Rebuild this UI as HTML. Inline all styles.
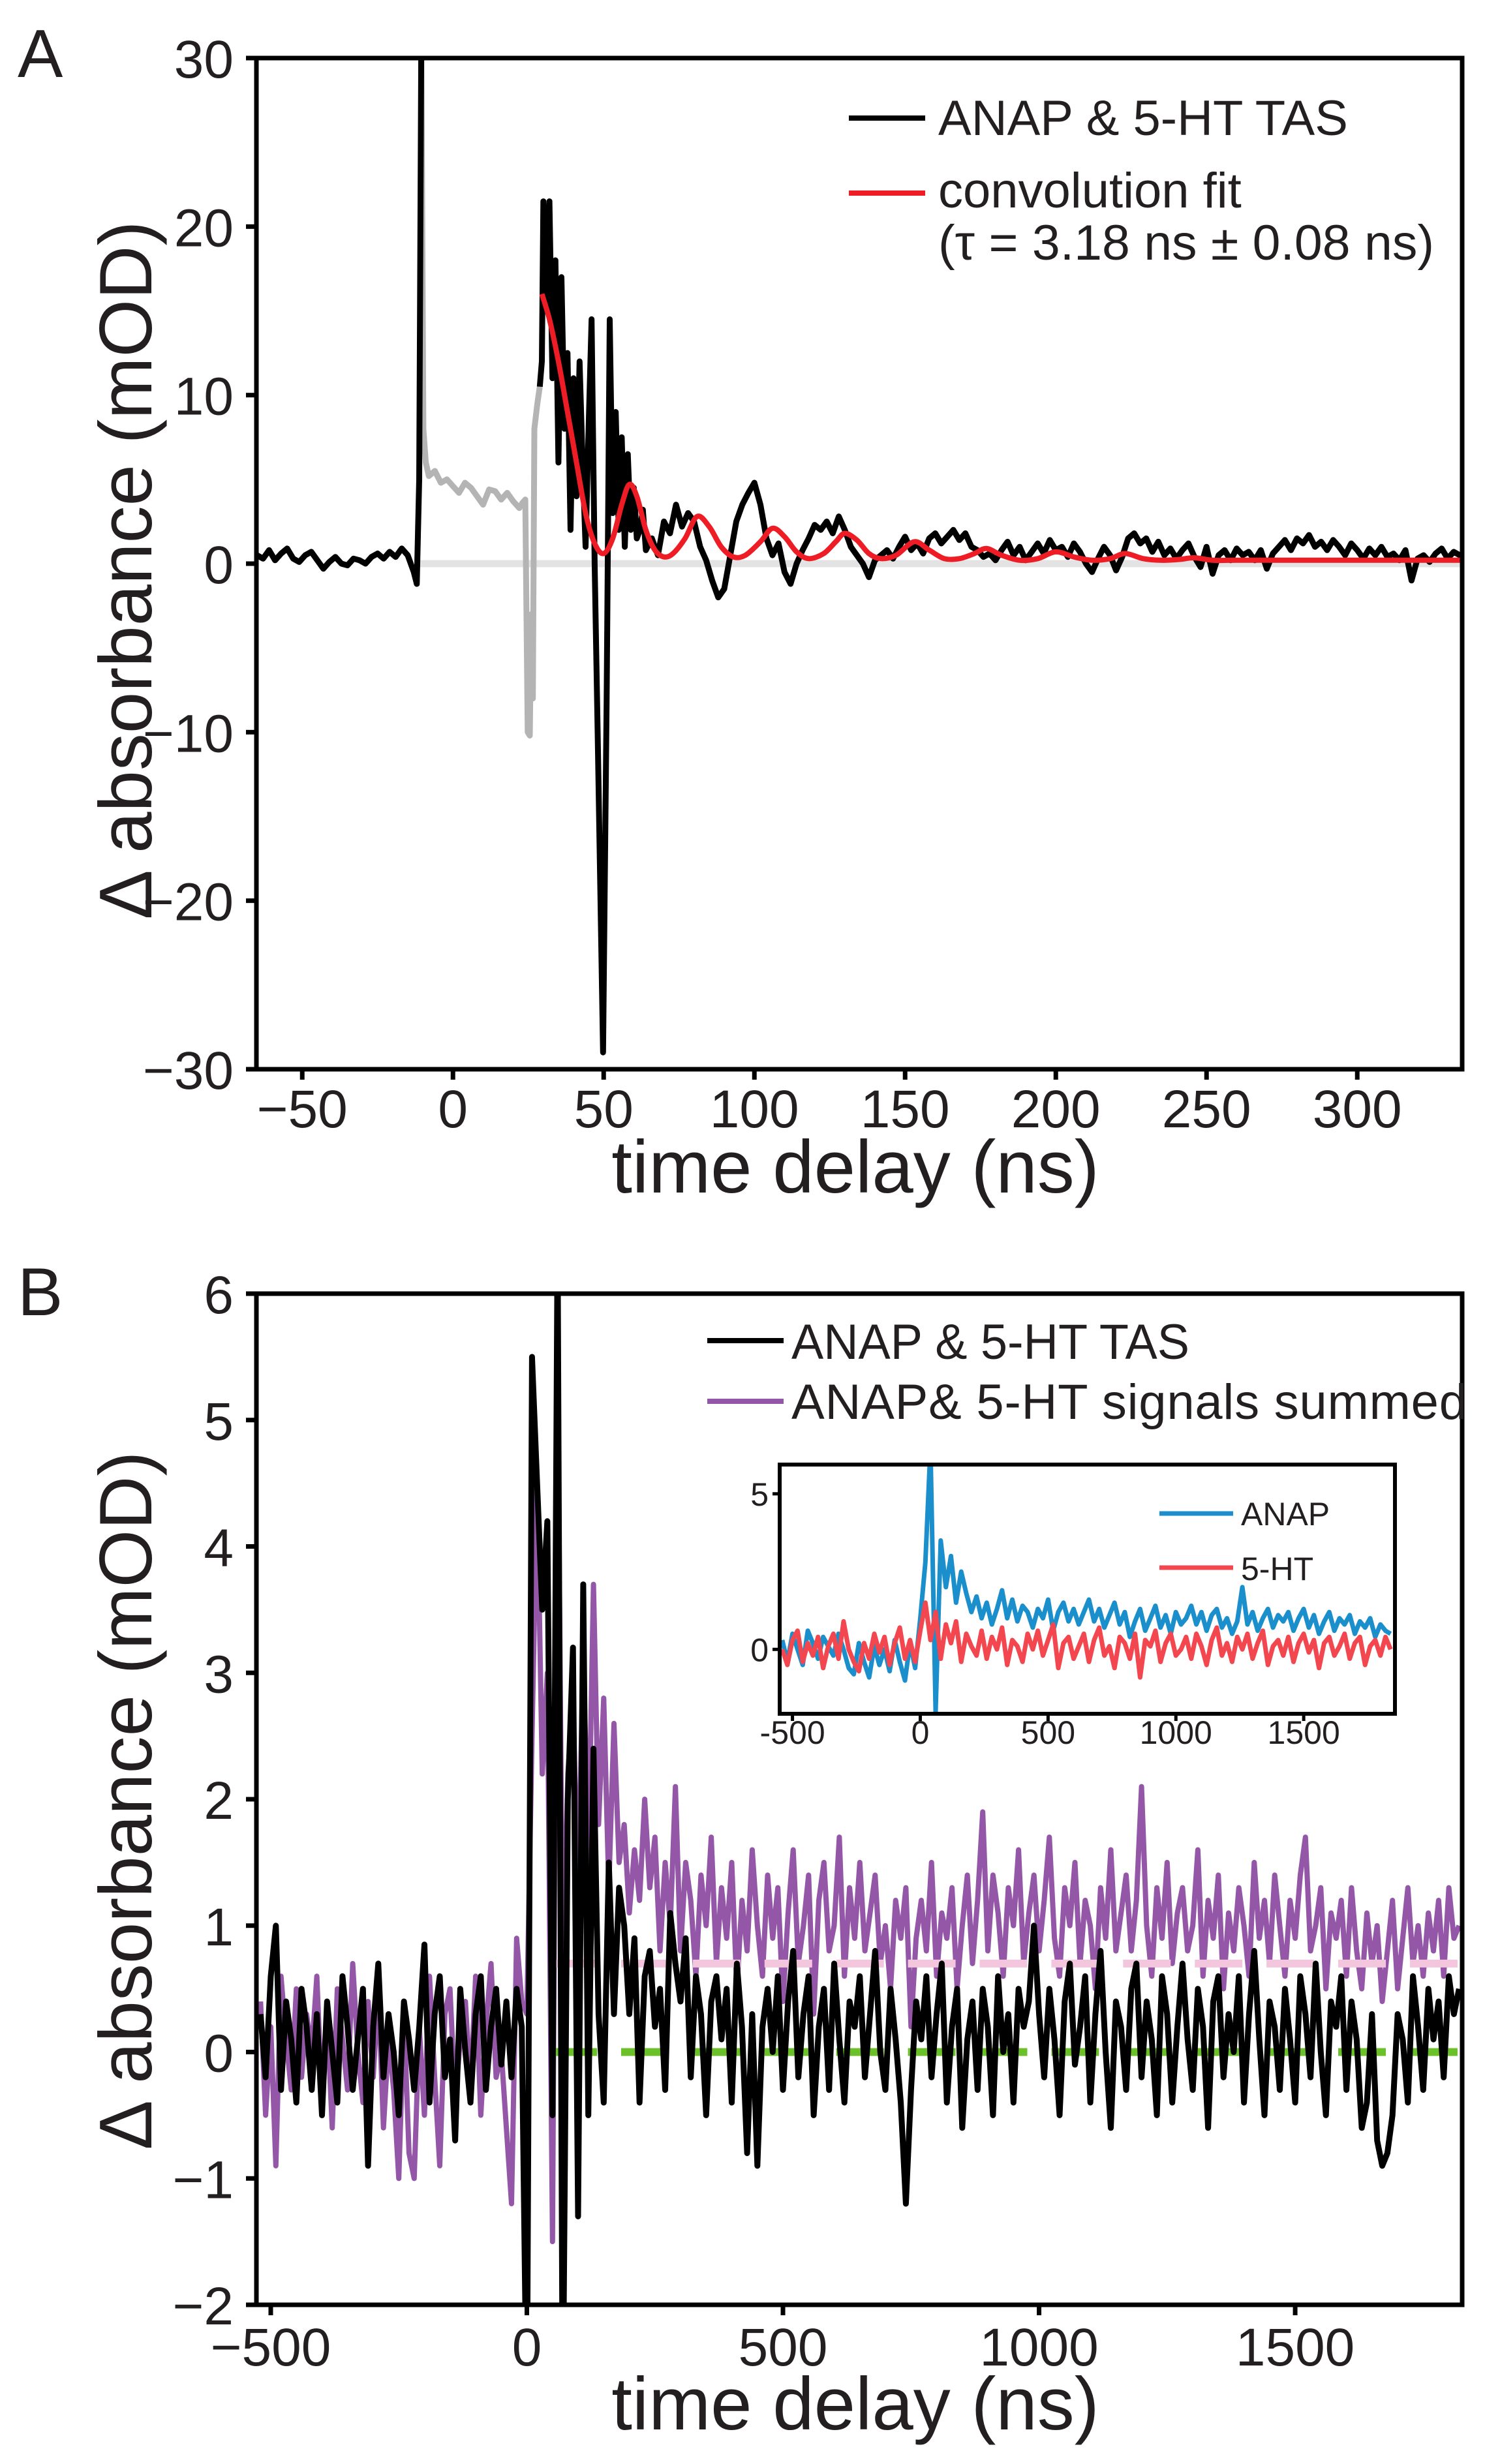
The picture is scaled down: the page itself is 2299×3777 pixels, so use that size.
<!DOCTYPE html>
<html><head><meta charset="utf-8">
<style>
html,body{margin:0;padding:0;background:#fff;}
svg{display:block;}
text{font-family:"Liberation Sans",Arial,sans-serif;fill:#231f20;}
</style></head>
<body>
<svg id="fig" width="2299" height="3777" viewBox="0 0 2299 3777" xmlns="http://www.w3.org/2000/svg">
<defs>
<clipPath id="clipA"><rect x="393" y="89" width="1848" height="1550"/></clipPath>
<clipPath id="clipB"><rect x="393" y="1983" width="1848" height="1550"/></clipPath>
<clipPath id="clipI"><rect x="1195" y="2245" width="943" height="382"/></clipPath>
</defs>
<g id="layer"></g>
</svg>
<script>
// ---------- Panel A data ----------
const aTicksX=[-50,0,50,100,150,200,250,300];
const aTicksY=[-30,-20,-10,0,10,20,30];
const aBlackPre=[[-65,0.5],[-63,0.3],[-61,0.8],[-59,0.2],[-57,0.6],[-55,0.9],[-53,0.3],[-51,0.1],[-49,0.5],[-47,0.7],[-45,0.2],[-43,-0.3],[-41,0.1],[-39,0.4],[-37,0.0],[-35,-0.1],[-33,0.3],[-31,0.2],[-29,0.0],[-27,0.4],[-25,0.6],[-23,0.3],[-21,0.7],[-19,0.4],[-17,0.9],[-15,0.5],[-13,-0.5],[-12,-1.2],[-11.2,5],[-10.5,31]];
const aGray=[[-10.5,31],[-9.8,8],[-9,6],[-8,5.2],[-6,5.5],[-4,4.8],[-2,5.0],[0,4.6],[2,4.2],[4,4.8],[6,4.5],[8,4.0],[10,3.5],[12,4.4],[14,4.3],[16,3.8],[18,4.2],[20,3.7],[22,3.3],[23,3.6],[24,3.8],[24.8,-10],[25.5,-10.2],[26,-3],[26.5,-8],[27,8],[28,9.5],[28.8,10.5]];
const aBlackPost=[[28.8,10.5],[29.5,12],[30,21.5],[31,15],[32,21.5],[33,11],[34,18],[35,6],[36,17],[37,8],[38,12.5],[39,2],[40,11],[41,4],[42,12],[43,6],[44,1],[45,8],[46,14.5],[47,0],[48,-10],[49.8,-29],[51,-8],[52,14.5],[53,3],[54,9],[55,2],[56,7.5],[57,1],[58,6.5],[59,2],[60,4.5],[61,1.5],[62,2],[63,3.2],[64,0.8],[66,1.5],[68,0.5],[70,2.5],[72,1.8],[74,3.5],[76,2.2],[78,3],[80,2.5],[82,1],[84,0.2],[86,-1],[88,-2],[90,-1.5],[92,0.5],[94,2.5],[96,3.5],[98,4.2],[100,4.8],[102,3.5],[104,1.5],[106,0.5],[108,1.2],[110,-0.5],[112,-1.2],[114,0],[116,0.8],[118,1.5],[120,2.3],[122,2.0],[124,2.5],[126,1.8],[128,2.8],[130,2.0],[132,1.0],[134,0.5],[136,0.0],[138,-0.8],[140,0.2],[142,0.5],[144,0.8],[146,0.3],[148,1.0],[150,1.6],[152,0.8],[154,1.2],[156,0.6],[158,1.5],[160,1.8],[162,1.2],[164,1.6],[166,2.0],[168,1.4],[170,1.8],[172,1.0],[174,0.8],[176,0.4],[178,0.6],[180,0.2],[182,0.8],[184,1.3],[186,0.5],[188,1.0],[190,0.2],[192,0.7],[194,1.2],[196,0.6],[198,1.4],[200,0.8],[202,1.0],[204,0.4],[206,1.2],[208,0.7],[210,0.0],[212,-0.5],[214,0.3],[216,1.0],[218,0.5],[220,-0.4],[222,0.4],[224,1.5],[226,1.8],[228,1.2],[230,1.5],[232,0.7],[234,1.3],[236,0.5],[238,0.9],[240,0.3],[242,0.8],[244,1.2],[246,0.4],[248,-0.2],[250,1.0],[252,-0.6],[254,0.5],[256,0.8],[258,0.2],[260,0.9],[262,0.5],[264,0.7],[266,0.2],[268,0.8],[270,-0.3],[272,0.6],[274,1.0],[276,1.4],[278,0.8],[280,1.5],[282,1.2],[284,1.7],[286,1.0],[288,1.3],[290,0.8],[292,1.4],[294,1.0],[296,0.5],[298,1.2],[300,0.8],[302,0.3],[304,0.9],[306,0.5],[308,1.0],[310,0.4],[312,0.6],[314,0.2],[316,0.8],[318,-1.0],[320,0.3],[322,0.5],[324,0.1],[326,0.6],[328,0.9],[330,0.3],[332,0.7],[334,0.5],[336,0.4]];
const aFit=[[29.5,16],[32,14.5],[35,12],[38,9],[41,6],[44,3],[47,1.2],[50,0.6],[53,1.5],[56,3.5],[58.5,4.7],[61,4],[64,2],[67,0.8],[70,0.4],[73,0.6],[77,1.5],[81,2.8],[85,2.2],[89,1.0],[93,0.4],[97,0.5],[102,1.3],[106,2.1],[110,1.6],[114,0.7],[118,0.3],[123,0.6],[127,1.3],[130,1.8],[134,1.4],[138,0.6],[142,0.3],[147,0.5],[153,1.3],[158,0.8],[163,0.3],[168,0.3],[173,0.6],[177,0.9],[182,0.5],[188,0.2],[194,0.3],[200,0.7],[206,0.4],[212,0.2],[218,0.3],[223,0.6],[229,0.3],[235,0.2],[241,0.25],[246,0.35],[252,0.2],[260,0.2],[280,0.2],[335,0.2]];

// ---------- Panel B data ----------
const bTicksX=[-500,0,500,1000,1500];
const bTicksY=[-2,-1,0,1,2,3,4,5,6];
const bT0=-520, bStep=10;
const bBlack=[0.3,-0.2,0.6,1.0,-0.3,0.4,0.1,-0.4,0.5,0.2,
-0.3,0.3,-0.5,0.4,0.0,-0.4,0.6,0.2,-0.3,0.1,
0.5,-0.9,0.2,0.7,-0.2,0.3,0.0,-0.5,0.4,0.1,
-0.3,0.2,0.85,-0.4,0.3,0.6,-0.2,0.1,-0.7,0.5,
0.0,-0.4,0.3,0.6,-0.3,0.2,0.5,-0.1,0.4,-0.2,
0.5,0.2,-3,5.5,4.5,3.5,4.2,-0.5,6.5,-3,
2,3.2,-1.3,3.7,-0.5,2.4,0.3,-0.4,1.5,0.3,
1.3,1.0,0.3,0.9,-0.4,0.6,0.8,0.2,0.5,-0.3,
1.1,0.7,0.4,0.9,-0.2,0.6,0.3,-0.5,0.4,0.6,
0.1,0.5,-0.4,0.7,0.2,-0.8,0.3,-0.9,0.2,0.5,
0.0,0.6,-0.3,0.4,0.8,-0.2,0.3,0.6,-0.5,0.2,
0.5,-0.3,0.7,0.1,-0.4,0.4,0.2,0.6,-0.2,0.3,
0.8,0.0,-0.3,0.5,0.1,-0.4,-1.2,-0.3,0.4,0.1,
0.6,-0.2,0.3,0.7,-0.4,0.2,0.5,-0.6,0.1,0.4,
-0.3,0.5,0.2,-0.5,0.6,0.0,0.3,-0.4,0.5,0.2,
0.4,1.0,0.3,-0.2,0.5,0.1,-0.5,0.4,0.7,-0.1,
0.2,0.6,-0.4,0.3,0.8,0.0,-0.6,0.4,0.2,-0.3,
0.5,0.7,-0.2,0.4,0.1,-0.5,0.6,0.3,-0.4,0.2,
0.7,0.1,-0.3,0.5,0.2,-0.6,0.4,0.6,-0.2,0.3,
0.0,0.6,-0.4,0.3,0.8,0.1,-0.5,0.4,0.2,-0.3,
0.5,0.1,-0.4,0.6,0.3,-0.2,0.7,0.0,-0.5,0.4,
0.2,0.6,-0.3,0.4,0.1,-0.6,-0.4,0.3,-0.7,-0.9,
-0.8,-0.5,0.3,0.1,-0.4,0.6,0.2,-0.3,0.5,0.1,
0.4,-0.2,0.6,0.3,0.5];
const bSummed=[0.4,-0.5,0.2,-0.9,0.6,0.1,-0.3,0.5,-0.2,0.3,
0.0,0.6,-0.4,0.3,-0.6,0.5,0.1,-0.3,0.7,0.0,
-0.4,0.4,-0.2,0.5,-0.6,0.1,-0.3,-1.0,0.3,-0.8,
-1.0,0.2,-0.5,0.6,-0.2,-0.9,0.3,0.5,-0.4,0.1,
0.4,-0.3,0.6,-0.5,0.2,0.7,-0.2,0.0,-0.6,-1.2,
0.9,0.4,0.3,2.5,4.5,2.2,3.0,-1.5,5.5,0.5,
2.2,2.8,1.2,3.2,1.5,3.7,1.8,2.8,1.3,2.6,
1.5,1.8,1.1,1.6,1.2,2.0,1.3,1.7,0.8,1.5,
1.0,2.1,0.8,1.5,1.2,0.6,1.4,1.0,1.7,0.7,
1.3,0.9,1.5,0.5,1.2,0.8,1.6,1.0,0.6,1.4,
0.9,1.3,0.4,1.1,1.6,0.7,1.0,1.4,0.3,1.2,
1.5,0.8,1.0,1.7,0.6,1.3,0.9,1.5,0.8,1.1,
1.4,0.7,1.0,0.5,1.2,0.9,1.3,0.2,0.9,1.2,
0.8,1.5,0.6,1.1,0.9,1.3,0.5,1.0,1.4,0.7,
1.2,1.9,0.8,1.4,1.1,0.6,1.3,1.0,1.6,0.7,
1.1,1.4,0.8,1.2,1.7,0.9,0.6,1.3,1.0,1.5,
0.7,1.2,1.0,0.5,1.3,0.9,1.6,0.8,1.1,1.4,
0.8,1.2,2.1,1.0,0.6,1.3,0.9,1.5,0.7,1.1,
1.3,0.8,1.0,1.6,0.6,1.2,0.9,1.4,0.5,1.1,
0.8,1.3,1.0,0.6,1.5,0.9,1.2,0.7,1.4,1.0,
0.6,1.2,0.9,1.4,1.7,0.8,1.0,1.3,0.5,1.1,
0.9,1.2,0.6,1.3,0.8,0.5,1.1,0.7,1.0,0.4,
0.8,1.2,0.5,0.9,1.3,0.7,1.0,0.6,1.1,0.8,
1.2,0.6,1.3,0.9,1.0];
const bRefLevels=[0.7,0];
const bDashStart=44, bDashLen=93, bDashGap=47;

// ---------- Inset data ----------
const iTicksX=[-500,0,500,1000,1500];
const iTicksY=[0,5];
const iT0=-540, iStep=20;
const iAnap=[0.3,-0.4,0.5,0.0,-0.5,0.6,0.2,-0.3,0.4,0.1,
-0.2,0.5,0.0,-0.6,-0.8,0.2,-0.4,-0.9,0.1,-0.5,
0.0,-0.7,0.3,-0.4,-1.0,0.2,-0.6,1.0,2.8,6.5,
-2.0,3.5,2.0,3.0,1.5,2.5,1.8,1.2,1.7,1.0,
1.5,0.8,1.3,1.9,1.0,1.6,0.9,1.4,1.2,0.7,
1.3,1.0,1.6,0.6,1.2,1.5,0.9,1.3,0.8,1.2,
1.6,0.9,1.3,0.7,1.1,1.5,0.8,1.2,0.4,0.9,
1.3,0.6,1.0,1.4,0.7,1.1,0.5,1.2,0.8,1.0,
1.4,0.8,1.2,0.6,1.1,1.3,0.7,1.0,0.5,0.9,
2.0,0.8,1.2,0.6,1.0,1.3,0.7,1.1,0.9,1.2,
0.6,1.0,1.3,0.7,1.1,0.5,0.9,1.2,0.6,1.0,
0.8,1.1,0.5,0.9,0.7,1.0,0.4,0.8,0.6,0.5];
const i5HT=[0.0,-0.5,0.3,0.6,-0.4,0.2,-0.2,0.4,-0.6,0.1,
0.5,-0.3,0.9,0.0,-0.4,-0.7,0.2,-0.3,0.5,-0.1,
0.4,-0.5,0.2,0.7,-0.3,0.3,-0.4,0.6,1.5,0.3,
1.2,-0.3,0.8,0.2,0.9,-0.4,0.5,0.1,-0.2,0.6,
-0.3,0.4,0.0,0.7,-0.5,0.3,0.1,-0.4,0.5,0.0,
0.6,-0.2,0.3,0.8,-0.6,0.2,0.4,-0.3,0.1,0.5,
-0.4,0.3,0.7,-0.2,0.1,-0.6,0.4,0.2,-0.3,0.5,
-0.9,0.3,0.1,0.6,-0.4,0.2,0.5,-0.2,0.0,0.4,
-0.3,0.5,0.1,-0.5,0.3,0.7,-0.2,0.2,-0.4,0.4,
0.0,0.5,-0.3,0.2,0.6,-0.5,0.1,0.3,-0.2,0.4,
-0.4,0.2,0.5,-0.1,0.3,-0.6,0.2,0.4,-0.2,0.1,
0.5,-0.3,0.2,0.4,-0.5,0.1,0.3,-0.2,0.4,0.0];

// ---------- helpers ----------
const NS='http://www.w3.org/2000/svg';
const root=document.getElementById('layer');
function el(tag,attrs,parent,txt){const e=document.createElementNS(NS,tag);for(const k in attrs)e.setAttribute(k,attrs[k]);if(txt!==undefined)e.textContent=txt;(parent||root).appendChild(e);return e;}
function lin(d0,d1,r0,r1){return v=>r0+(v-d0)*(r1-r0)/(d1-d0);}
function fmt(v){return v<0?'\u2212'+Math.abs(v):String(v);}
function pathPairs(pairs,sx,sy){return pairs.map((p,i)=>(i?'L':'M')+sx(p[0]).toFixed(1)+','+sy(p[1]).toFixed(1)).join('');}
function pathSeries(t0,step,vals,sx,sy){return vals.map((v,i)=>(i?'L':'M')+sx(t0+i*step).toFixed(1)+','+sy(v).toFixed(1)).join('');}
function smoothPairs(pairs,sx,sy){const P=pairs.map(p=>[sx(p[0]),sy(p[1])]);let d='M'+P[0][0]+','+P[0][1];for(let i=0;i<P.length-1;i++){const p0=P[Math.max(i-1,0)],p1=P[i],p2=P[i+1],p3=P[Math.min(i+2,P.length-1)];const c1x=p1[0]+(p2[0]-p0[0])/6,c1y=p1[1]+(p2[1]-p0[1])/6,c2x=p2[0]-(p3[0]-p1[0])/6,c2y=p2[1]-(p3[1]-p1[1])/6;d+='C'+c1x.toFixed(1)+','+c1y.toFixed(1)+' '+c2x.toFixed(1)+','+c2y.toFixed(1)+' '+p2[0].toFixed(1)+','+p2[1].toFixed(1);}return d;}

// ---------- Panel A ----------
const axA=lin(-65.2,334.8,393,2241), ayA=lin(-30,30,1639,89);
const gA=el('g',{});


let t=el('text',{x:27,y:118,'font-size':104},gA,'A');

const cA=el('g',{'clip-path':'url(#clipA)'},gA);
let p=el('line',{x1:axA(-12),x2:axA(335),y1:ayA(0),y2:ayA(0),stroke:'#e3e3e3','stroke-width':11},cA);

p=el('path',{d:pathPairs(aGray,axA,ayA),fill:'none',stroke:'#b4b4b4','stroke-width':9,'stroke-linejoin':'round'},cA);

p=el('path',{d:pathPairs(aBlackPre,axA,ayA),fill:'none',stroke:'#000','stroke-width':9,'stroke-linejoin':'round'},cA);

p=el('path',{d:pathPairs(aBlackPost,axA,ayA),fill:'none',stroke:'#000','stroke-width':9,'stroke-linejoin':'round'},cA);

p=el('path',{d:smoothPairs(aFit,axA,ayA),fill:'none',stroke:'#ee1c24','stroke-width':8},cA);

p=el('rect',{x:393,y:89,width:1848,height:1550,fill:'none',stroke:'#000','stroke-width':7},gA);

aTicksY.forEach(v=>{const y=ayA(v);
 const l=el('line',{x1:377,x2:393,y1:y,y2:y,stroke:'#000','stroke-width':7},gA);
 
 const tx=el('text',{x:358,y:y+30,'font-size':82,'text-anchor':'end'},gA,fmt(v));
 });
aTicksX.forEach(v=>{const x=axA(v);
 const l=el('line',{x1:x,x2:x,y1:1639,y2:1655,stroke:'#000','stroke-width':7},gA);
 
 const tx=el('text',{x:x,y:1728,'font-size':82,'text-anchor':'middle'},gA,fmt(v));
 });
t=el('text',{x:1311,y:1828,'font-size':114,'text-anchor':'middle'},gA,'time delay (ns)');

t=el('text',{x:0,y:0,'font-size':114,'text-anchor':'middle',transform:'translate(232,874) rotate(-90)'},gA,'\u0394 absorbance (mOD)');

// legend A
p=el('line',{x1:1301,x2:1418,y1:181,y2:181,stroke:'#000','stroke-width':8},gA);

t=el('text',{x:1438,y:207,'font-size':76},gA,'ANAP & 5-HT TAS');

p=el('line',{x1:1301,x2:1418,y1:296,y2:296,stroke:'#ee1c24','stroke-width':8},gA);

t=el('text',{x:1438,y:318,'font-size':76},gA,'convolution fit');

t=el('text',{x:1438,y:398,'font-size':76,textLength:760,lengthAdjust:'spacingAndGlyphs'},gA,'(\u03C4 = 3.18 ns \u00B1 0.08 ns)');


// ---------- Panel B ----------
const axB=lin(-528,1826,393,2241), ayB=lin(-2,6,3533,1983);
const gB=el('g',{});


t=el('text',{x:27,y:2016,'font-size':104},gB,'B');

const cB=el('g',{'clip-path':'url(#clipB)'},gB);
p=el('path',{d:pathSeries(bT0,bStep,bSummed,axB,ayB),fill:'none',stroke:'#9457a8','stroke-width':8,'stroke-linejoin':'round'},cB);

const refColors=['#f3c6de','#6cc12b'];
bRefLevels.forEach((lv,k)=>{
 for(let s=bDashStart;s<1826;s+=bDashLen+bDashGap){
  const d=el('line',{x1:axB(s),x2:axB(Math.min(s+bDashLen,1826)),y1:ayB(lv),y2:ayB(lv),stroke:refColors[k],'stroke-width':12},cB);
  
  
 }});
p=el('path',{d:pathSeries(bT0,bStep,bBlack,axB,ayB),fill:'none',stroke:'#000','stroke-width':9,'stroke-linejoin':'round'},cB);

p=el('rect',{x:393,y:1983,width:1848,height:1550,fill:'none',stroke:'#000','stroke-width':7},gB);

bTicksY.forEach(v=>{const y=ayB(v);
 const l=el('line',{x1:377,x2:393,y1:y,y2:y,stroke:'#000','stroke-width':7},gB);
 
 const tx=el('text',{x:358,y:y+30,'font-size':82,'text-anchor':'end'},gB,fmt(v));
 });
bTicksX.forEach(v=>{const x=axB(v);
 const l=el('line',{x1:x,x2:x,y1:3533,y2:3549,stroke:'#000','stroke-width':7},gB);
 
 const tx=el('text',{x:x,y:3626,'font-size':82,'text-anchor':'middle'},gB,fmt(v));
 });
t=el('text',{x:1311,y:3724,'font-size':114,'text-anchor':'middle'},gB,'time delay (ns)');

t=el('text',{x:0,y:0,'font-size':114,'text-anchor':'middle',transform:'translate(232,2760) rotate(-90)'},gB,'\u0394 absorbance (mOD)');

// legend B
p=el('line',{x1:1084,x2:1201,y1:2055,y2:2055,stroke:'#000','stroke-width':8},gB);

t=el('text',{x:1213,y:2083,'font-size':76,textLength:610,lengthAdjust:'spacingAndGlyphs'},gB,'ANAP & 5-HT TAS');

p=el('line',{x1:1084,x2:1201,y1:2148,y2:2148,stroke:'#9457a8','stroke-width':8},gB);

t=el('text',{x:1213,y:2175,'font-size':76,textLength:1035,lengthAdjust:'spacing'},gB,'ANAP& 5-HT signals summed');


// ---------- Inset ----------
const axI=lin(-550,1857,1195,2138), ayI=lin(-2.07,5.94,2627,2245);
const gI=el('g',{});


el('rect',{x:1195,y:2245,width:943,height:382,fill:'#fff'},gI);
const cI=el('g',{'clip-path':'url(#clipI)'},gI);
p=el('path',{d:pathSeries(iT0,iStep,iAnap,axI,ayI),fill:'none',stroke:'#1b8fcb','stroke-width':7,'stroke-linejoin':'round'},cI);

p=el('path',{d:pathSeries(iT0,iStep,i5HT,axI,ayI),fill:'none',stroke:'#f2474f','stroke-width':7,'stroke-linejoin':'round'},cI);

p=el('rect',{x:1195,y:2245,width:943,height:382,fill:'none',stroke:'#000','stroke-width':6},gI);

iTicksY.forEach(v=>{const y=ayI(v);
 const l=el('line',{x1:1184,x2:1195,y1:y,y2:y,stroke:'#000','stroke-width':5},gI);
 
 const tx=el('text',{x:1178,y:y+18,'font-size':50,'text-anchor':'end'},gI,String(v));
 });
iTicksX.forEach(v=>{const x=axI(v);
 const l=el('line',{x1:x,x2:x,y1:2627,y2:2638,stroke:'#000','stroke-width':5},gI);
 
 const tx=el('text',{x:x,y:2673,'font-size':50,'text-anchor':'middle'},gI,String(v));
 });
p=el('line',{x1:1777,x2:1890,y1:2320,y2:2320,stroke:'#1b8fcb','stroke-width':7},gI);

t=el('text',{x:1902,y:2338,'font-size':50},gI,'ANAP');

p=el('line',{x1:1777,x2:1890,y1:2403,y2:2403,stroke:'#f2474f','stroke-width':7},gI);

t=el('text',{x:1902,y:2422,'font-size':50},gI,'5-HT');

</script>
</body></html>
